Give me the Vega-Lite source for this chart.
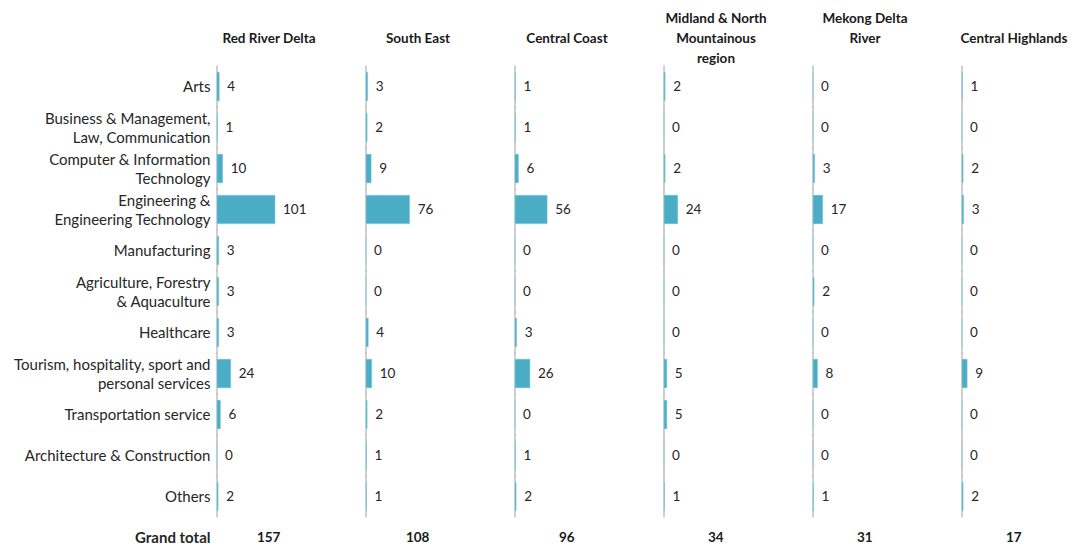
{
  "$schema": "https://vega.github.io/schema/vega-lite/v6.json",
  "padding": {"left": 13, "top": 11, "right": 5, "bottom": 0},
  "background": "white",
  "config": {"font": "Lato", "view": {"stroke": null}},
  "data": {"values": [
    {"region": "Red River Delta", "category": "Arts", "value": 4},
    {"region": "Red River Delta", "category": "Business & Management, Law, Communication", "value": 1},
    {"region": "Red River Delta", "category": "Computer & Information Technology", "value": 10},
    {"region": "Red River Delta", "category": "Engineering & Engineering Technology", "value": 101},
    {"region": "Red River Delta", "category": "Manufacturing", "value": 3},
    {"region": "Red River Delta", "category": "Agriculture, Forestry & Aquaculture", "value": 3},
    {"region": "Red River Delta", "category": "Healthcare", "value": 3},
    {"region": "Red River Delta", "category": "Tourism, hospitality, sport and personal services", "value": 24},
    {"region": "Red River Delta", "category": "Transportation service", "value": 6},
    {"region": "Red River Delta", "category": "Architecture & Construction", "value": 0},
    {"region": "Red River Delta", "category": "Others", "value": 2},
    {"region": "Red River Delta", "category": "Grand total", "value": 157},
    {"region": "South East", "category": "Arts", "value": 3},
    {"region": "South East", "category": "Business & Management, Law, Communication", "value": 2},
    {"region": "South East", "category": "Computer & Information Technology", "value": 9},
    {"region": "South East", "category": "Engineering & Engineering Technology", "value": 76},
    {"region": "South East", "category": "Manufacturing", "value": 0},
    {"region": "South East", "category": "Agriculture, Forestry & Aquaculture", "value": 0},
    {"region": "South East", "category": "Healthcare", "value": 4},
    {"region": "South East", "category": "Tourism, hospitality, sport and personal services", "value": 10},
    {"region": "South East", "category": "Transportation service", "value": 2},
    {"region": "South East", "category": "Architecture & Construction", "value": 1},
    {"region": "South East", "category": "Others", "value": 1},
    {"region": "South East", "category": "Grand total", "value": 108},
    {"region": "Central Coast", "category": "Arts", "value": 1},
    {"region": "Central Coast", "category": "Business & Management, Law, Communication", "value": 1},
    {"region": "Central Coast", "category": "Computer & Information Technology", "value": 6},
    {"region": "Central Coast", "category": "Engineering & Engineering Technology", "value": 56},
    {"region": "Central Coast", "category": "Manufacturing", "value": 0},
    {"region": "Central Coast", "category": "Agriculture, Forestry & Aquaculture", "value": 0},
    {"region": "Central Coast", "category": "Healthcare", "value": 3},
    {"region": "Central Coast", "category": "Tourism, hospitality, sport and personal services", "value": 26},
    {"region": "Central Coast", "category": "Transportation service", "value": 0},
    {"region": "Central Coast", "category": "Architecture & Construction", "value": 1},
    {"region": "Central Coast", "category": "Others", "value": 2},
    {"region": "Central Coast", "category": "Grand total", "value": 96},
    {"region": "Midland & North Mountainous region", "category": "Arts", "value": 2},
    {"region": "Midland & North Mountainous region", "category": "Business & Management, Law, Communication", "value": 0},
    {"region": "Midland & North Mountainous region", "category": "Computer & Information Technology", "value": 2},
    {"region": "Midland & North Mountainous region", "category": "Engineering & Engineering Technology", "value": 24},
    {"region": "Midland & North Mountainous region", "category": "Manufacturing", "value": 0},
    {"region": "Midland & North Mountainous region", "category": "Agriculture, Forestry & Aquaculture", "value": 0},
    {"region": "Midland & North Mountainous region", "category": "Healthcare", "value": 0},
    {"region": "Midland & North Mountainous region", "category": "Tourism, hospitality, sport and personal services", "value": 5},
    {"region": "Midland & North Mountainous region", "category": "Transportation service", "value": 5},
    {"region": "Midland & North Mountainous region", "category": "Architecture & Construction", "value": 0},
    {"region": "Midland & North Mountainous region", "category": "Others", "value": 1},
    {"region": "Midland & North Mountainous region", "category": "Grand total", "value": 34},
    {"region": "Mekong Delta River", "category": "Arts", "value": 0},
    {"region": "Mekong Delta River", "category": "Business & Management, Law, Communication", "value": 0},
    {"region": "Mekong Delta River", "category": "Computer & Information Technology", "value": 3},
    {"region": "Mekong Delta River", "category": "Engineering & Engineering Technology", "value": 17},
    {"region": "Mekong Delta River", "category": "Manufacturing", "value": 0},
    {"region": "Mekong Delta River", "category": "Agriculture, Forestry & Aquaculture", "value": 2},
    {"region": "Mekong Delta River", "category": "Healthcare", "value": 0},
    {"region": "Mekong Delta River", "category": "Tourism, hospitality, sport and personal services", "value": 8},
    {"region": "Mekong Delta River", "category": "Transportation service", "value": 0},
    {"region": "Mekong Delta River", "category": "Architecture & Construction", "value": 0},
    {"region": "Mekong Delta River", "category": "Others", "value": 1},
    {"region": "Mekong Delta River", "category": "Grand total", "value": 31},
    {"region": "Central Highlands", "category": "Arts", "value": 1},
    {"region": "Central Highlands", "category": "Business & Management, Law, Communication", "value": 0},
    {"region": "Central Highlands", "category": "Computer & Information Technology", "value": 2},
    {"region": "Central Highlands", "category": "Engineering & Engineering Technology", "value": 3},
    {"region": "Central Highlands", "category": "Manufacturing", "value": 0},
    {"region": "Central Highlands", "category": "Agriculture, Forestry & Aquaculture", "value": 0},
    {"region": "Central Highlands", "category": "Healthcare", "value": 0},
    {"region": "Central Highlands", "category": "Tourism, hospitality, sport and personal services", "value": 9},
    {"region": "Central Highlands", "category": "Transportation service", "value": 0},
    {"region": "Central Highlands", "category": "Architecture & Construction", "value": 0},
    {"region": "Central Highlands", "category": "Others", "value": 2},
    {"region": "Central Highlands", "category": "Grand total", "value": 17}
  ]},
  "facet": {
    "column": {
      "field": "region",
      "type": "nominal",
      "sort": ["Red River Delta", "South East", "Central Coast", "Midland & North Mountainous region", "Mekong Delta River", "Central Highlands"],
      "title": null,
      "header": {
        "labelFont": "Lato",
        "labelFontSize": 13.5,
        "labelFontWeight": "bold",
        "labelColor": "#1a1a1a",
        "labelAlign": "center",
        "labelAnchor": "middle",
        "labelBaseline": "middle",
        "labelLineHeight": 20,
        "labelPadding": -7,
        "labelExpr": "datum.value == 'Midland & North Mountainous region' ? ['Midland & North', 'Mountainous', 'region'] : datum.value == 'Mekong Delta River' ? ['Mekong Delta', 'River', ''] : [datum.value, '']"
      }
    }
  },
  "spacing": 44,
  "spec": {
    "width": 104,
    "height": {"step": 41},
    "encoding": {
      "y": {
        "field": "category",
        "type": "nominal",
        "sort": ["Arts", "Business & Management, Law, Communication", "Computer & Information Technology", "Engineering & Engineering Technology", "Manufacturing", "Agriculture, Forestry & Aquaculture", "Healthcare", "Tourism, hospitality, sport and personal services", "Transportation service", "Architecture & Construction", "Others", "Grand total"],
        "scale": {"paddingInner": 0.3, "paddingOuter": 0.15},
        "title": null,
        "axis": {
          "domain": false,
          "ticks": false,
          "grid": false,
          "labelFont": "Lato",
          "labelFontSize": 15,
          "labelColor": "#262626",
          "labelPadding": 6,
          "labelLimit": 0,
          "labelLineHeight": 19,
          "labelFontWeight": {"condition": {"test": "datum.value == 'Grand total'", "value": "bold"}, "value": "normal"},
          "labelOffset": {"condition": {"test": "indexof(['Business & Management, Law, Communication', 'Computer & Information Technology', 'Engineering & Engineering Technology', 'Agriculture, Forestry & Aquaculture', 'Tourism, hospitality, sport and personal services'], datum.value) >= 0", "value": -9}, "value": 0},
          "labelExpr": "datum.label == 'Business & Management, Law, Communication' ? ['Business & Management,', 'Law, Communication'] : datum.label == 'Computer & Information Technology' ? ['Computer & Information', 'Technology'] : datum.label == 'Engineering & Engineering Technology' ? ['Engineering &', 'Engineering Technology'] : datum.label == 'Agriculture, Forestry & Aquaculture' ? ['Agriculture, Forestry', '& Aquaculture'] : datum.label == 'Tourism, hospitality, sport and personal services' ? ['Tourism, hospitality, sport and', 'personal services'] : datum.label"
        }
      }
    },
    "layer": [
      {
        "transform": [{"filter": "datum.category != 'Grand total'"}],
        "mark": {"type": "tick", "color": "#a6a6a6", "thickness": 1.5, "size": 42},
        "encoding": {
          "x": {"datum": 0, "type": "quantitative", "scale": {"domain": [0, 181], "nice": false}, "axis": null}
        }
      },
      {
        "transform": [{"filter": "datum.category != 'Grand total'"}],
        "mark": {"type": "bar", "color": "#4bacc6", "stroke": "#8fd0e0", "strokeWidth": 0.5},
        "encoding": {
          "x": {"field": "value", "type": "quantitative"}
        }
      },
      {
        "transform": [{"filter": "datum.category != 'Grand total'"}],
        "mark": {"type": "text", "align": "left", "dx": 8, "font": "Lato", "fontSize": 13.5, "color": "#262626"},
        "encoding": {
          "x": {"field": "value", "type": "quantitative"},
          "text": {"field": "value", "type": "quantitative"}
        }
      },
      {
        "transform": [{"filter": "datum.category == 'Grand total'"}],
        "mark": {"type": "text", "align": "center", "font": "Lato", "fontSize": 13.5, "fontWeight": "bold", "color": "#1a1a1a"},
        "encoding": {
          "x": {"datum": 90, "type": "quantitative"},
          "text": {"field": "value", "type": "quantitative"}
        }
      }
    ]
  }
}
